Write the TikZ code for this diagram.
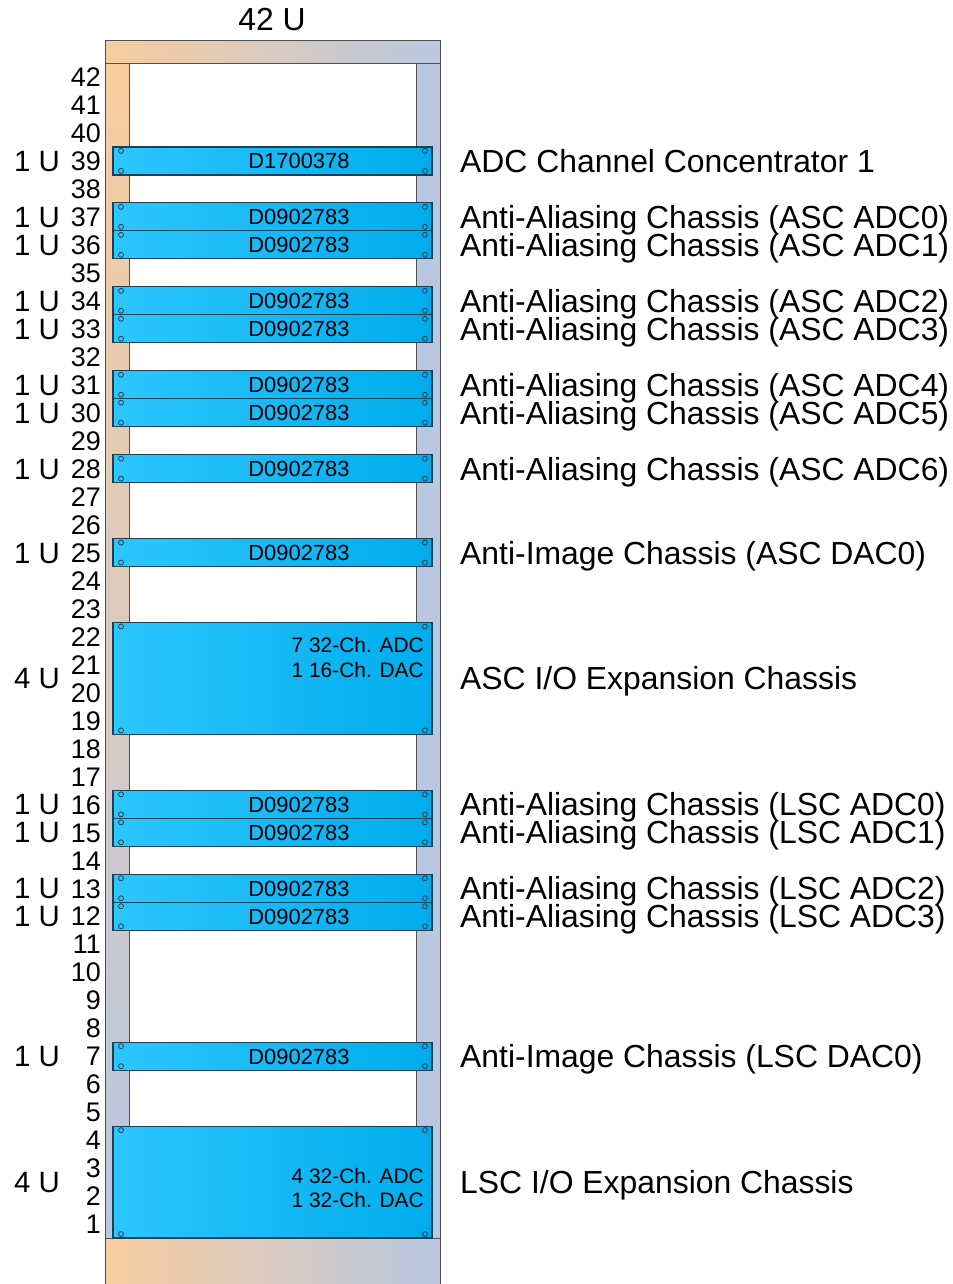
\documentclass[tikz,border=0pt]{standalone}
\usepackage{fontspec}
\setmainfont{Liberation Sans}
\definecolor{rackorange}{HTML}{F9CC9E}
\definecolor{rackblue}{HTML}{B8C8E2}
\definecolor{rackline}{HTML}{505050}
\definecolor{chlight}{HTML}{2DC6FF}
\definecolor{chdark}{HTML}{00ACEC}
\definecolor{chline}{HTML}{1C3F52}
\newcommand\uh{27.976}
\tikzset{
  chassis/.style={draw=chline, line width=1.2bp, shade, shading angle=135,
    left color=chlight, right color=chdark, minimum width=319bp, inner sep=0pt, outer sep=0pt},
  hole/.style={draw=chline, line width=0.8bp},
  codelbl/.style={font=\fontsize{22}{22}\selectfont, inner sep=0pt, anchor=base},
  coder/.style={font=\fontsize{21}{21}\selectfont, inner sep=0pt, anchor=base east},
  desc/.style={font=\fontsize{32}{32}\selectfont, inner sep=0pt, anchor=base west},
  numlbl/.style={font=\fontsize{27}{27}\selectfont, inner sep=0pt, anchor=base east},
  ulbl/.style={font=\fontsize{29.5}{29.5}\selectfont, inner sep=0pt, anchor=base east},
  railbox/.style={draw=rackline, line width=1bp}
}
\newcommand\holes[1]{%
  \draw[hole] ($(#1.north west)+(8,4)$) circle[radius=2.5pt];
  \draw[hole] ($(#1.south west)+(8,-4)$) circle[radius=2.5pt];
  \draw[hole] ($(#1.north east)+(-7,4)$) circle[radius=2.5pt];
  \draw[hole] ($(#1.south east)+(-7,-4)$) circle[radius=2.5pt];
}
\newcommand\chassisone[3]{%
  \pgfmathsetmacro\yc{63+(42-#1+0.5)*\uh}
  \node[chassis, minimum height=\uh bp] (c#1) at (272.5,\yc) {};
  \holes{c#1}
  \node[codelbl] (k#1) at (299,\yc+7.9) {#2};
  \node[desc] (d#1) at (460,\yc+11.5) {#3};
  \node[ulbl] (u#1) at (60,\yc+10.5) {1 U};
}
\usetikzlibrary{calc}
\begin{document}
\begin{tikzpicture}[x=1bp,y=-1bp]
\useasboundingbox (0,0) rectangle (953,1284);
% rails
\fill[white] (129,63) rectangle (416,1238);
\shade[top color=rackorange, bottom color=rackblue] (105,63) rectangle (129,1238);
\draw[railbox] (105,63) rectangle (129,1238);
\fill[rackblue] (416,63) rectangle (440,1238);
\draw[railbox] (416,63) rectangle (440,1238);
% top and bottom bars
\shade[shading angle=110, left color=rackorange, right color=rackblue] (105,40) rectangle (440,63);
\draw[railbox] (105,40) rectangle (440,63);
\shade[shading angle=110, left color=rackorange, right color=rackblue] (105,1238) rectangle (440,1286);
\draw[railbox] (105,1286) -- (105,1238) -- (440,1238) -- (440,1286);
\node[font=\fontsize{32}{32}\selectfont, inner sep=0pt, anchor=base] (title) at (272,30.5) {42 U};
% unit numbers
\foreach \n in {1,...,42}{
  \node[numlbl] (n\n) at (101,{63+(42-\n+0.5)*\uh+9.7}) {\n};
}
% 1U chassis
\chassisone{39}{D1700378}{ADC Channel Concentrator 1}
\chassisone{37}{D0902783}{Anti-Aliasing Chassis (ASC ADC0)}
\chassisone{36}{D0902783}{Anti-Aliasing Chassis (ASC ADC1)}
\chassisone{34}{D0902783}{Anti-Aliasing Chassis (ASC ADC2)}
\chassisone{33}{D0902783}{Anti-Aliasing Chassis (ASC ADC3)}
\chassisone{31}{D0902783}{Anti-Aliasing Chassis (ASC ADC4)}
\chassisone{30}{D0902783}{Anti-Aliasing Chassis (ASC ADC5)}
\chassisone{28}{D0902783}{Anti-Aliasing Chassis (ASC ADC6)}
\chassisone{25}{D0902783}{Anti-Image Chassis (ASC DAC0)}
\chassisone{16}{D0902783}{Anti-Aliasing Chassis (LSC ADC0)}
\chassisone{15}{D0902783}{Anti-Aliasing Chassis (LSC ADC1)}
\chassisone{13}{D0902783}{Anti-Aliasing Chassis (LSC ADC2)}
\chassisone{12}{D0902783}{Anti-Aliasing Chassis (LSC ADC3)}
\chassisone{7}{D0902783}{Anti-Image Chassis (LSC DAC0)}
% 4U ASC I/O chassis
\pgfmathsetmacro\ya{63+22*\uh}
\node[chassis, minimum height=4*\uh bp] (casc) at (272.5,\ya) {};
\holes{casc}
\node[coder] (ka1) at (424,652.7) {7 32-Ch. ADC};
\node[coder] (ka2) at (424,677) {1 16-Ch. DAC};
\node[desc] (dasc) at (460,\ya+11.5) {ASC I/O Expansion Chassis};
\node[ulbl] (uasc) at (60,\ya+10.5) {4 U};
% 4U LSC I/O chassis
\pgfmathsetmacro\yb{63+40*\uh}
\node[chassis, minimum height=4*\uh bp] (clsc) at (272.5,\yb) {};
\holes{clsc}
\node[coder] (kl1) at (424,1183) {4 32-Ch. ADC};
\node[coder] (kl2) at (424,1207.5) {1 32-Ch. DAC};
\node[desc] (dlsc) at (460,\yb+11.5) {LSC I/O Expansion Chassis};
\node[ulbl] (ulsc) at (60,\yb+10.5) {4 U};
\end{tikzpicture}
\end{document}
